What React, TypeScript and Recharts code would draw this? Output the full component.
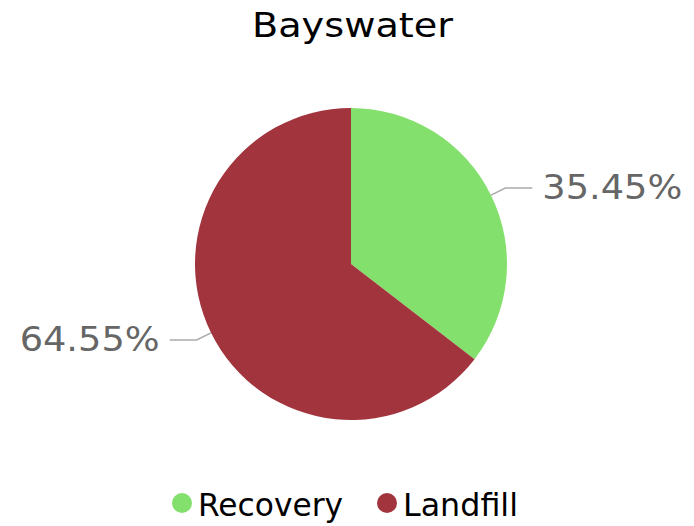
import { Pie, PieChart, Cell } from 'recharts'

const title = 'Bayswater'
const categories = ['Recovery', 'Landfill']
const shares = [35.45, 64.55]
const colors = ['#84e06c', '#a2343e']

const data = categories.map((name, i) => ({ name, value: shares[i] }))

const RADIAN = Math.PI / 180
const FONT = 'DejaVu Sans'

const renderLabel = (props: any) => {
  const { cx, cy, midAngle, outerRadius, value } = props
  const cos = Math.cos(-midAngle * RADIAN)
  const sin = Math.sin(-midAngle * RADIAN)
  const sx = cx + outerRadius * cos
  const sy = cy + outerRadius * sin
  const mx = cx + (outerRadius + 16) * cos
  const my = cy + (outerRadius + 16) * sin
  const right = cos >= 0
  const ex = mx + (right ? 27 : -27)
  const tx = ex + (right ? 10 : -10)
  return (
    <g>
      <polyline
        points={`${sx},${sy} ${mx},${my} ${ex},${my}`}
        fill='none'
        stroke='#aaaaaa'
        strokeWidth={1.5}
      />
      <text
        x={tx}
        y={my}
        dy={11}
        textAnchor={right ? 'start' : 'end'}
        fill='#666666'
        fontSize={33}
        fontFamily={FONT}
        textLength={140}
        lengthAdjust='spacingAndGlyphs'
      >
        {`${value.toFixed(2)}%`}
      </text>
    </g>
  )
}

// legend positions
const legendX = [172, 377]
const legendW = [145, 115]

export default function App() {
  return (
    <div
      style={{
        position: 'absolute',
        left: 0,
        top: 0,
        width: 694,
        height: 526,
        background: '#fff',
      }}
    >
      <PieChart width={694} height={526} margin={{ top: 0, right: 0, bottom: 0, left: 0 }}>
        <Pie
          data={data}
          dataKey='value'
          nameKey='name'
          cx={351}
          cy={264}
          outerRadius={156}
          startAngle={90}
          endAngle={-270}
          stroke='none'
          label={renderLabel}
          labelLine={false}
          isAnimationActive={false}
        >
          {data.map((d, i) => (
            <Cell key={d.name} fill={colors[i]} />
          ))}
        </Pie>
      </PieChart>
      <svg
        width={694}
        height={526}
        style={{ position: 'absolute', left: 0, top: 0, pointerEvents: 'none' }}
      >
        <text
          x={352.5}
          y={37}
          textAnchor='middle'
          fontSize={34}
          fontFamily={FONT}
          fill='#000'
          textLength={201}
          lengthAdjust='spacingAndGlyphs'
        >
          {title}
        </text>
        {categories.map((c, i) => (
          <g key={c}>
            <circle cx={legendX[i] + 10} cy={503} r={10} fill={colors[i]} />
            <text
              x={legendX[i] + 26}
              y={516}
              fontSize={32}
              fontFamily={FONT}
              fill='#000'
              textLength={legendW[i]}
              lengthAdjust='spacingAndGlyphs'
            >
              {c}
            </text>
          </g>
        ))}
      </svg>
    </div>
  )
}
